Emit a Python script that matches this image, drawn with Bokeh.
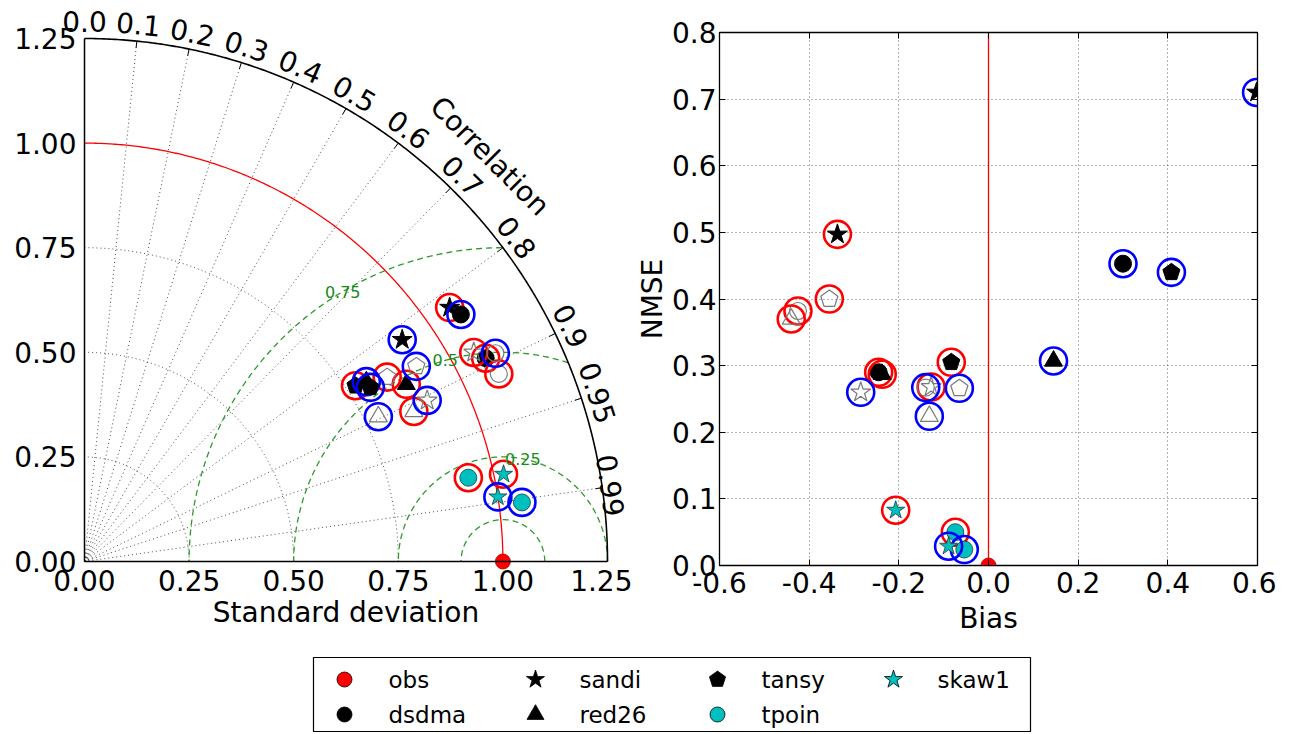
import numpy as np
from bokeh.plotting import figure
from bokeh.models import (ColumnDataSource, LinearAxis, FixedTicker, PrintfTickFormatter,
                          CustomJSTickFormatter, LabelSet, Label, Span, Range1d)
from bokeh.layouts import column, row
from bokeh.embed import file_html
from bokeh.resources import INLINE
from bokeh.core.properties import value

FONT = "DejaVu Sans"

# ------------------------------------------------------------------ data
model_names = ["sandi", "dsdma", "red26", "tansy"]
model_shapes = ["star", "circle", "triangle", "pentagon"]
teal_names = ["tpoin", "skaw1"]
teal_shapes = ["circle", "star"]

# Taylor diagram: standard deviation / correlation (order = model_names)
tay_red_filled_std = [1.063, 1.075, 0.878, 0.772]
tay_red_filled_corr = [0.821, 0.892, 0.876, 0.839]
tay_red_open_std = [1.056, 1.087, 0.865, 0.847]
tay_red_open_corr = [0.881, 0.911, 0.910, 0.854]
tay_blue_filled_std = [0.926, 1.076, 0.799, 0.800]
tay_blue_filled_corr = [0.820, 0.836, 0.843, 0.854]
tay_blue_open_std = [0.905, 1.101, 0.783, 0.920]
tay_blue_open_corr = [0.905, 0.892, 0.897, 0.862]
tay_red_teal_std = [0.939, 1.023]
tay_red_teal_corr = [0.977, 0.979]
tay_blue_teal_std = [1.055, 1.000]
tay_blue_teal_corr = [0.991, 0.988]
obs_std = 1.0
obs_corr = 1.0

# Bias / NMSE (order = model_names)
bn_red_filled_bias = [-0.337, -0.245, -0.237, -0.083]
bn_red_filled_nmse = [0.497, 0.290, 0.287, 0.305]
bn_red_open_bias = [-0.128, -0.425, -0.440, -0.355]
bn_red_open_nmse = [0.268, 0.382, 0.370, 0.400]
bn_blue_filled_bias = [0.598, 0.300, 0.145, 0.408]
bn_blue_filled_nmse = [0.710, 0.453, 0.307, 0.440]
bn_blue_open_bias = [-0.285, -0.140, -0.132, -0.065]
bn_blue_open_nmse = [0.260, 0.267, 0.224, 0.266]
bn_red_teal_bias = [-0.074, -0.207]
bn_red_teal_nmse = [0.050, 0.083]
bn_blue_teal_bias = [-0.054, -0.089]
bn_blue_teal_nmse = [0.024, 0.029]
obs_bias = 0.0
obs_nmse = 0.0

std_ticks = [0.0, 0.25, 0.5, 0.75, 1.0, 1.25]
corr_ticks = [0.0, 0.1, 0.2, 0.3, 0.4, 0.5, 0.6, 0.7, 0.8, 0.9, 0.95, 0.99]
corr_tick_labels = ["0.0", "0.1", "0.2", "0.3", "0.4", "0.5", "0.6", "0.7", "0.8", "0.9", "0.95", "0.99"]
rms_levels = [0.1, 0.25, 0.5, 0.75]
rms_label_levels = [0.25, 0.5, 0.75]
rms_label_texts = ["0.25", "0.5", "0.75"]
bias_ticks = [-0.6, -0.4, -0.2, 0.0, 0.2, 0.4, 0.6]
nmse_ticks = [0.0, 0.1, 0.2, 0.3, 0.4, 0.5, 0.6, 0.7, 0.8]

legend_labels = ["obs", "dsdma", "sandi", "red26", "tansy", "tpoin", "skaw1"]
legend_shapes = ["circle", "circle", "star", "triangle", "pentagon", "circle", "star"]
legend_fills = ["red", "black", "black", "black", "black", "#00bfbf", "#00bfbf"]

# ------------------------------------------------------------------ styles / layout
TEAL = "#00bfbf"
OPEN_EDGE = "#7a7a7a"
RING_SIZE = 27
RING_W = 2.6
SHAPE_SIZE = {"star": 21, "circle": 17, "triangle": 18, "pentagon": 18}
FS = "28px"

ROW_H = 645
TAY_PX = 523 / 1.25          # pixels per unit of standard deviation
TAY_W = 632                  # canvas width of the Taylor panel
TAY_OX, TAY_OY = 84, 561     # pixel position of the origin inside that canvas


def no_align(p):
    if "frame_align" in p.properties():
        p.frame_align = False


def add_marker(p, xs, ys, shape, fill, line, lw, size=None, scale=(1.0, 1.0)):
    size = SHAPE_SIZE[shape] if size is None else size
    xs = list(xs)
    ys = list(ys)
    if shape == "pentagon":
        r = size / 2.0
        a = np.pi / 2 + 2 * np.pi * np.arange(5) / 5
        pxs = [list(x0 + r * np.cos(a) / scale[0]) for x0 in xs]
        pys = [list(y0 + r * np.sin(a) / scale[1]) for y0 in ys]
        p.patches(pxs, pys, fill_color=fill, line_color=line, line_width=lw)
    else:
        p.scatter(x=xs, y=ys, marker=shape, size=size, fill_color=fill, line_color=line, line_width=lw)


def add_ring(p, xs, ys, color):
    p.scatter(x=list(xs), y=list(ys), marker="circle", size=RING_SIZE, fill_color=None,
              line_color=color, line_width=RING_W)


def draw_group(p, xs, ys, shapes, kind, ring, scale):
    for i, shp in enumerate(shapes):
        if kind == "filled":
            add_marker(p, [xs[i]], [ys[i]], shp, "black", "black", 1, scale=scale)
        elif kind == "open":
            add_marker(p, [xs[i]], [ys[i]], shp, None, OPEN_EDGE, 1.2, scale=scale)
        else:
            add_marker(p, [xs[i]], [ys[i]], shp, TEAL, "#1a3a3a", 0.8,
                       size=17 if shp == "circle" else 19, scale=scale)
        add_ring(p, [xs[i]], [ys[i]], ring)


def style_axis(ax, fs=FS):
    ax.major_label_text_font = FONT
    ax.major_label_text_font_size = fs
    ax.axis_label_text_font = FONT
    ax.axis_label_text_font_size = fs
    ax.axis_label_text_font_style = "normal"
    ax.minor_tick_line_color = None
    ax.axis_line_color = "black"
    ax.major_tick_line_color = "black"
    ax.major_label_text_color = "black"
    ax.axis_label_text_color = "black"


def polar_xy(std, corr):
    std = np.asarray(std, float)
    th = np.arccos(np.asarray(corr, float))
    return std * np.cos(th), std * np.sin(th)


# ------------------------------------------------------------------ Taylor diagram
R = std_ticks[-1]
p1 = figure(x_range=Range1d(-TAY_OX / TAY_PX, (TAY_W - TAY_OX) / TAY_PX),
            y_range=Range1d(-(ROW_H - TAY_OY) / TAY_PX, TAY_OY / TAY_PX),
            frame_width=TAY_W, frame_height=ROW_H, min_border=0, title=None,
            x_axis_type=None, y_axis_type=None, output_backend="svg", toolbar_location=None)
no_align(p1)
p1.outline_line_color = None
p1.background_fill_color = "white"
tay_scale = (TAY_PX, TAY_PX)

axl = LinearAxis(ticker=FixedTicker(ticks=std_ticks), formatter=PrintfTickFormatter(format="%.2f"),
                 bounds=(0, R), fixed_location=0)
style_axis(axl)
axl.major_tick_in = 0
axl.major_tick_out = 0
axl.axis_line_width = 1.5
axl.major_label_standoff = 8
p1.add_layout(axl, "left")

axb = LinearAxis(ticker=FixedTicker(ticks=std_ticks), formatter=PrintfTickFormatter(format="%.2f"),
                 bounds=(0, R), fixed_location=0)
style_axis(axb)
axb.major_tick_in = 0
axb.major_tick_out = 0
axb.axis_line_width = 1.5
axb.major_label_standoff = 8
axb.axis_label = "Standard deviation"
axb.axis_label_standoff = 2
p1.add_layout(axb, "below")

th = np.linspace(0, np.pi / 2, 300)
# dotted std arcs
for s in std_ticks[1:-2]:
    p1.line(s * np.cos(th), s * np.sin(th), line_color="black", line_alpha=0.7,
            line_width=1, line_dash="1 3")
# dotted radial lines
ct = np.arccos(np.array(corr_ticks[1:]))
p1.segment(x0=np.zeros_like(ct), y0=np.zeros_like(ct), x1=R * np.cos(ct), y1=R * np.sin(ct),
           line_color="black", line_alpha=0.7, line_width=1, line_dash="1 3")
# tick marks on the correlation arc
p1.segment(x0=R * np.cos(ct), y0=R * np.sin(ct), x1=(R - 0.016) * np.cos(ct),
           y1=(R - 0.016) * np.sin(ct), line_color="black", line_width=1)

# RMS contours around the observation point
phi = np.linspace(0, np.pi, 600)
cx, cy = polar_xy([obs_std], [obs_corr])
mx, my = [], []
for d in rms_levels:
    x = cx[0] + d * np.cos(phi)
    y = cy[0] + d * np.sin(phi)
    keep = (x ** 2 + y ** 2 <= R ** 2 + 1e-9) & (x >= 0)
    mx.append(list(x[keep]))
    my.append(list(y[keep]))
p1.multi_line(mx, my, line_color="#2e9a2e", line_width=1.3, line_dash="6 4")
lab_phi = np.radians([79, 106, 120.7])
lsrc = ColumnDataSource(dict(
    x=cx[0] + np.array(rms_label_levels) * np.cos(lab_phi),
    y=cy[0] + np.array(rms_label_levels) * np.sin(lab_phi),
    t=rms_label_texts))
p1.add_layout(LabelSet(x="x", y="y", text="t", source=lsrc, text_align="center",
                       text_baseline="middle", text_font=value(FONT), text_font_size="16px",
                       text_color="#1a8a1a"))

# reference (obs std) arc and outer arc
p1.line(obs_std * np.cos(th), obs_std * np.sin(th), line_color="red", line_width=1.3)
p1.line(R * np.cos(th), R * np.sin(th), line_color="black", line_width=1.6)

# correlation labels (kept inside the panel's canvas)
ang = np.arccos(np.array(corr_ticks))
rl = R + 0.041
lab_x = np.minimum(rl * np.cos(ang), (TAY_W - 22 - TAY_OX) / TAY_PX)
csrc = ColumnDataSource(dict(x=lab_x, y=rl * np.sin(ang), t=corr_tick_labels,
                             a=ang - np.pi / 2))
p1.add_layout(LabelSet(x="x", y="y", text="t", angle="a", source=csrc, text_align="center",
                       text_baseline="middle", text_font=value(FONT), text_font_size=FS,
                       text_color="black"))
p1.add_layout(Label(x=1.37 * np.cos(np.pi / 4), y=1.37 * np.sin(np.pi / 4), text="Correlation",
                    angle=-np.pi / 4, text_align="center", text_baseline="middle",
                    text_font=FONT, text_font_size=FS, text_color="black"))

# points
x, y = polar_xy(tay_red_filled_std, tay_red_filled_corr)
draw_group(p1, x, y, model_shapes, "filled", "red", tay_scale)
x, y = polar_xy(tay_red_open_std, tay_red_open_corr)
draw_group(p1, x, y, model_shapes, "open", "red", tay_scale)
x, y = polar_xy(tay_blue_filled_std, tay_blue_filled_corr)
draw_group(p1, x, y, model_shapes, "filled", "blue", tay_scale)
x, y = polar_xy(tay_blue_open_std, tay_blue_open_corr)
draw_group(p1, x, y, model_shapes, "open", "blue", tay_scale)
x, y = polar_xy(tay_red_teal_std, tay_red_teal_corr)
draw_group(p1, x, y, teal_shapes, "teal", "red", tay_scale)
x, y = polar_xy(tay_blue_teal_std, tay_blue_teal_corr)
draw_group(p1, x, y, teal_shapes, "teal", "blue", tay_scale)
p1.scatter(x=list(cx), y=list(cy), marker="circle", size=15, fill_color="red",
           line_color="#aa0000", line_width=0.8)

# ------------------------------------------------------------------ Bias / NMSE
FW2, FH2 = 538, 533
p2 = figure(x_range=Range1d(bias_ticks[0], bias_ticks[-1]), y_range=Range1d(nmse_ticks[0], nmse_ticks[-1]),
            frame_width=FW2, frame_height=FH2, title=None,
            min_border_left=80, min_border_right=19, min_border_top=32,
            min_border_bottom=ROW_H - 32 - FH2,
            output_backend="svg", toolbar_location=None)
no_align(p2)
bn_scale = (FW2 / (bias_ticks[-1] - bias_ticks[0]), FH2 / (nmse_ticks[-1] - nmse_ticks[0]))
p2.outline_line_color = "black"
p2.outline_line_width = 1.3
p2.xaxis.ticker = FixedTicker(ticks=bias_ticks)
p2.yaxis.ticker = FixedTicker(ticks=nmse_ticks)
p2.xaxis.formatter = PrintfTickFormatter(format="%.1f")
p2.yaxis.formatter = PrintfTickFormatter(format="%.1f")
for ax in (p2.xaxis[0], p2.yaxis[0]):
    style_axis(ax)
    ax.major_tick_in = 6
    ax.major_tick_out = 0
p2.xaxis.major_label_standoff = 6
p2.yaxis.major_label_standoff = 3
p2.xaxis.axis_label_standoff = 6
p2.yaxis.axis_label_standoff = 0
p2.xaxis.axis_label = "Bias"
p2.yaxis.axis_label = "NMSE"
for loc, tk in (("above", bias_ticks), ("right", nmse_ticks)):
    ax = LinearAxis(ticker=FixedTicker(ticks=tk), formatter=CustomJSTickFormatter(code="return ''"))
    style_axis(ax, fs="0px")
    ax.major_tick_in = 6
    ax.major_tick_out = 0
    ax.major_label_standoff = 0
    p2.add_layout(ax, loc)
p2.grid.grid_line_color = "black"
p2.grid.grid_line_alpha = 0.6
p2.grid.grid_line_dash = "1 3"
p2.grid.grid_line_width = 1
p2.add_layout(Span(location=obs_bias, dimension="height", line_color="red", line_width=1.3,
                   level="underlay"))

draw_group(p2, bn_red_filled_bias, bn_red_filled_nmse, model_shapes, "filled", "red", bn_scale)
draw_group(p2, bn_red_open_bias, bn_red_open_nmse, model_shapes, "open", "red", bn_scale)
draw_group(p2, bn_blue_filled_bias, bn_blue_filled_nmse, model_shapes, "filled", "blue", bn_scale)
draw_group(p2, bn_blue_open_bias, bn_blue_open_nmse, model_shapes, "open", "blue", bn_scale)
draw_group(p2, bn_red_teal_bias, bn_red_teal_nmse, teal_shapes, "teal", "red", bn_scale)
draw_group(p2, bn_blue_teal_bias, bn_blue_teal_nmse, teal_shapes, "teal", "blue", bn_scale)
p2.scatter(x=[obs_bias], y=[obs_nmse], marker="circle", size=15, fill_color="red",
           line_color="#aa0000", line_width=0.8)

# ------------------------------------------------------------------ legend
LW, LH = 717, 75
p3 = figure(x_range=Range1d(0, LW), y_range=Range1d(0, LH), frame_width=LW, frame_height=LH,
            min_border_left=313, min_border_right=246, min_border_top=657 - ROW_H,
            min_border_bottom=0, title=None,
            x_axis_type=None, y_axis_type=None, output_backend="svg", toolbar_location=None)
no_align(p3)
p3.outline_line_color = "black"
p3.outline_line_width = 1.2
col_x = [31, 222, 404, 580]
row_y = [53, 18]
for i, (lab, shp, fc) in enumerate(zip(legend_labels, legend_shapes, legend_fills)):
    mxp = col_x[i // 2]
    myp = row_y[i % 2]
    size = {"circle": 15, "star": 19, "triangle": 17, "pentagon": 17}[shp]
    add_marker(p3, [mxp], [myp], shp, fc, "black", 0.8, size=size)
    p3.text(x=[mxp + 44], y=[myp], text=[lab], text_font=value(FONT), text_font_size="23px",
            text_baseline="middle", text_align="left", text_color="black")

layout = column(row(p1, p2), p3)
open("out.html", "w").write(file_html(layout, INLINE))
